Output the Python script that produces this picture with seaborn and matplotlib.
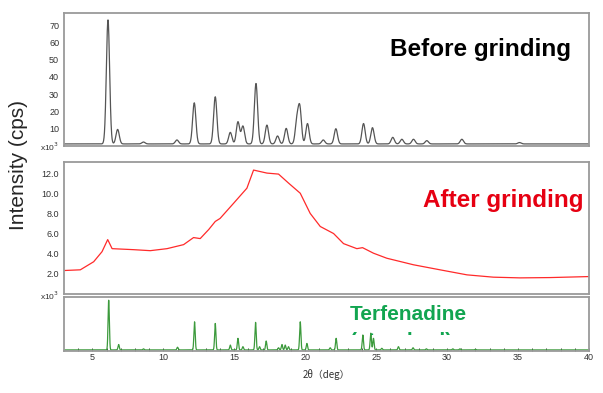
import numpy as np
import pandas as pd
import matplotlib
matplotlib.use('Agg')
import matplotlib.pyplot as plt
from matplotlib.transforms import Bbox, TransformedBbox
import seaborn as sns

# peak tables (2theta in deg, intensity in x10^3 cps)
before_pos = [6.10, 6.78, 8.60, 10.96, 12.18, 13.66, 14.72, 15.26, 15.61, 16.53,
              17.30, 18.05, 18.66, 19.41, 19.62, 20.16, 21.27, 22.16, 24.11, 24.74,
              26.17, 26.81, 27.63, 28.57, 31.04, 35.10]
before_int = [73.0, 9.6, 2.3, 3.5, 25.0, 28.5, 7.9, 14.0, 11.5, 36.2,
              12.1, 5.8, 10.2, 14.0, 21.5, 13.0, 3.5, 10.0, 13.0, 10.6,
              5.0, 3.9, 3.9, 3.1, 3.9, 2.0]
before_base = 1.2

# amorphous halo after grinding (x10^3 cps)
after_2theta = [3.0, 4.15, 5.09, 5.68, 6.08, 6.39, 7.9, 9.08, 10.26, 11.43,
                12.13, 12.6, 13.2, 13.66, 14.0, 14.95, 15.89, 16.36, 17.30, 18.12,
                18.83, 19.65, 20.35, 21.06, 22.0, 22.70, 23.64, 24.04, 24.81, 25.75,
                27.63, 29.5, 31.4, 33.26, 35.14, 37.25, 40.0]
after_int = [2.33, 2.4, 3.2, 4.2, 5.4, 4.5, 4.4, 4.3, 4.5, 4.9,
             5.6, 5.5, 6.4, 7.2, 7.5, 9.0, 10.5, 12.3, 12.0, 11.9,
             11.0, 10.0, 8.0, 6.7, 6.0, 5.0, 4.5, 4.6, 4.05, 3.55,
             2.9, 2.4, 1.9, 1.67, 1.6, 1.63, 1.73]

# terfenadine reference pattern (relative scale)
ref_pos = [6.15, 6.85, 8.60, 11.00, 12.20, 13.66, 14.72, 15.26, 15.61, 16.50,
           16.78, 17.25, 18.12, 18.36, 18.59, 18.82, 19.65, 20.12, 21.76, 22.18,
           24.06, 24.62, 24.81, 25.40, 26.57, 27.60, 28.54, 30.40, 30.90, 32.00]
ref_int = [94, 12, 4, 7, 54, 51, 11, 23.5, 8, 53,
           8, 18.5, 6, 12, 11, 8, 54, 14, 6, 23.5,
           29.6, 33, 23.5, 5, 8, 6, 4, 4, 4, 3]
ref_base = 2.0

two_theta = np.arange(3.0, 40.001, 0.01)


def pattern(pos, heights, sigma, base):
    y = np.full_like(two_theta, base)
    for p, h in zip(pos, heights):
        y += (h - base) * np.exp(-0.5 * ((two_theta - p) / sigma) ** 2)
    return y


df_before = pd.DataFrame({'2theta': two_theta,
                          'I': pattern(before_pos, before_int, 0.115, before_base)})
df_after = pd.DataFrame({'2theta': after_2theta, 'I': after_int})
df_ref = pd.DataFrame({'2theta': two_theta,
                       'I': pattern(ref_pos, ref_int, 0.045, ref_base)})

sns.set_style('white')
plt.rcParams['font.family'] = ['Liberation Sans', 'DejaVu Sans']

W, H = 603, 393
fig = plt.figure(figsize=(6.03, 3.93), dpi=100)


def px_axes(x0, y0, x1, y1):
    return fig.add_axes([x0 / W, 1 - y1 / H, (x1 - x0) / W, (y1 - y0) / H])


ax1 = px_axes(64, 13, 589, 146)
ax2 = px_axes(64, 162, 589, 294)
ax3 = px_axes(64, 297, 589, 351)

sns.lineplot(data=df_before, x='2theta', y='I', ax=ax1, color='#555555', lw=0.9)
sns.lineplot(data=df_after, x='2theta', y='I', ax=ax2, color='#ff2a2a', lw=0.9)
sns.lineplot(data=df_ref, x='2theta', y='I', ax=ax3, color='#3c9a3c', lw=0.9)

for ax in (ax1, ax2, ax3):
    ax.set_xlim(3, 40)
    ax.set_xlabel('')
    ax.set_ylabel('')
    for s in ax.spines.values():
        s.set_color('#9a9a9a')
        s.set_linewidth(1.3)
    ax.tick_params(labelsize=6.5, colors='#333333', length=2, width=0.6, pad=1.5)

ax1.set_ylim(0, 77)
ax1.set_yticks([10, 20, 30, 40, 50, 60, 70])
ax1.tick_params(axis='x', bottom=False, labelbottom=False)

ax2.set_ylim(0, 13.1)
ax2.set_yticks([2, 4, 6, 8, 10, 12])
ax2.set_yticklabels([f'{v:.1f}' for v in [2, 4, 6, 8, 10, 12]])
ax2.tick_params(axis='x', bottom=False, labelbottom=False)

ax3.set_ylim(0, 100)
ax3.set_yticks([])
ax3.set_xticks([5, 10, 15, 20, 25, 30, 35, 40])
ax3.set_xticks(np.arange(4, 40, 1), minor=True)
ax3.tick_params(axis='x', which='both', direction='in', length=2, bottom=True)

fig.text(59 / W, 1 - 147 / H, r'x10$^3$', fontsize=6, color='#333333', ha='right', va='center')
fig.text(59 / W, 1 - 296 / H, r'x10$^3$', fontsize=6, color='#333333', ha='right', va='center')

fig.text(18.5 / W, 1 - 165 / H, 'Intensity (cps)', fontsize=15, rotation=90,
         ha='center', va='center')
fig.text(326 / W, 1 - 374 / H, '2θ（deg）', fontsize=7, color='#333333',
         ha='center', va='center', family=['Noto Sans CJK JP', 'DejaVu Sans'])

ax1.text(0.966, 0.722, 'Before grinding', transform=ax1.transAxes, fontsize=17.5,
         fontweight='bold', color='black', ha='right', va='center')
ax2.text(0.989, 0.712, 'After grinding', transform=ax2.transAxes, fontsize=17.5,
         fontweight='bold', color='#e60012', ha='right', va='center')

fig.text(350 / W, 1 - 320 / H, 'Terfenadine', fontsize=15,
         fontweight='bold', color='#12a550', ha='left', va='baseline')
# second line of the label is cut off in the source picture
terf2 = fig.text(350 / W, 1 - 347 / H, '(standard)', fontsize=15,
                 fontweight='bold', color='#12a550', ha='left', va='baseline')
terf2.set_clip_on(True)
terf2.set_clip_box(TransformedBbox(Bbox([[0, 1 - 335 / H], [1, 1]]), fig.transFigure))

fig.savefig('out.png', dpi=100)
